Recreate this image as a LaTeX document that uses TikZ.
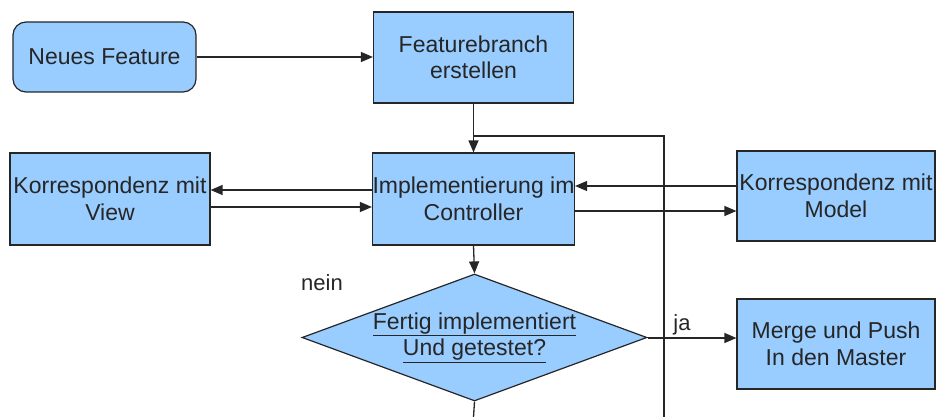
\documentclass[tikz,border=0pt]{standalone}
\usepackage{fontspec}
\setmainfont{Liberation Sans}
\usetikzlibrary{arrows.meta,shapes.geometric}
\definecolor{boxfill}{HTML}{99CCFF}
\definecolor{ink}{HTML}{262626}
\begin{document}
\begin{tikzpicture}[x=1pt,y=-1pt,
  box/.style={draw=ink,line width=1.2pt,fill=boxfill,inner sep=0pt,align=center,text=ink,
    font=\fontsize{23}{26.5}\selectfont},
  arr/.style={draw=ink,line width=1.3pt,-{Triangle[length=12pt,width=10pt]}},
  line/.style={draw=ink,line width=1.3pt},
  lbl/.style={text=ink,inner sep=0pt,font=\fontsize{22}{26}\selectfont}]
\useasboundingbox (0,0) rectangle (936,417);

% process boxes
\node[box,rounded corners=13pt,minimum width=183pt,minimum height=70pt] (nf) at (104.5,57) {Neues Feature};
\node[box,minimum width=200pt,minimum height=91pt] (fb) at (473.5,57.5) {Featurebranch\\erstellen};
\node[box,minimum width=200pt,minimum height=92pt] (ctl) at (473.5,199) {Implementierung im\\Controller};
\node[box,minimum width=200pt,minimum height=92pt] (view) at (110,199) {Korrespondenz mit\\View};
\node[box,minimum width=198pt,minimum height=90pt] (model) at (836,196) {Korrespondenz mit\\Model};
\node[box,minimum width=198pt,minimum height=90pt] (merge) at (836,344) {Merge und Push\\In den Master};

% decision
\node[box,shape=diamond,minimum width=345pt,minimum height=127pt] (dia) at (474.5,337.5) {};
\node[align=center,text=ink,inner sep=0pt,font=\fontsize{23}{26.5}\selectfont] (diatext) at (dia.center)
  {\underline{Fertig implementiert}\\\underline{Und getestet?}};

% labels
\node[lbl] (nein) at (322,283) {nein};
\node[lbl] (ja) at (682,325) {ja};

% loop-back line
\coordinate (loopbot) at (664,417);
\coordinate (loopcorner) at (664,136);
\coordinate (loopjoin) at (473.5,136);
\coordinate (diabot) at (473.5,417);

% connectors
\draw[arr] (nf.east) -- (fb.west |- nf.east);
\draw[arr] (fb.south) -- (ctl.north);
\draw[line] (loopbot) -- (loopcorner) -- (loopjoin);
\draw[arr] (ctl.west |- 0,190) -- (view.east |- 0,190);
\draw[arr] (view.east |- 0,207) -- (ctl.west |- 0,207);
\draw[arr] (model.west |- 0,186) -- (ctl.east |- 0,186);
\draw[arr] (ctl.east |- 0,211) -- (model.west |- 0,211);
\draw[arr] (ctl.south) -- (dia.north);
\draw[arr] (dia.east |- 0,338) -- (merge.west |- 0,338);
\draw[line] (dia.south) -- (diabot);
\end{tikzpicture}
\end{document}
